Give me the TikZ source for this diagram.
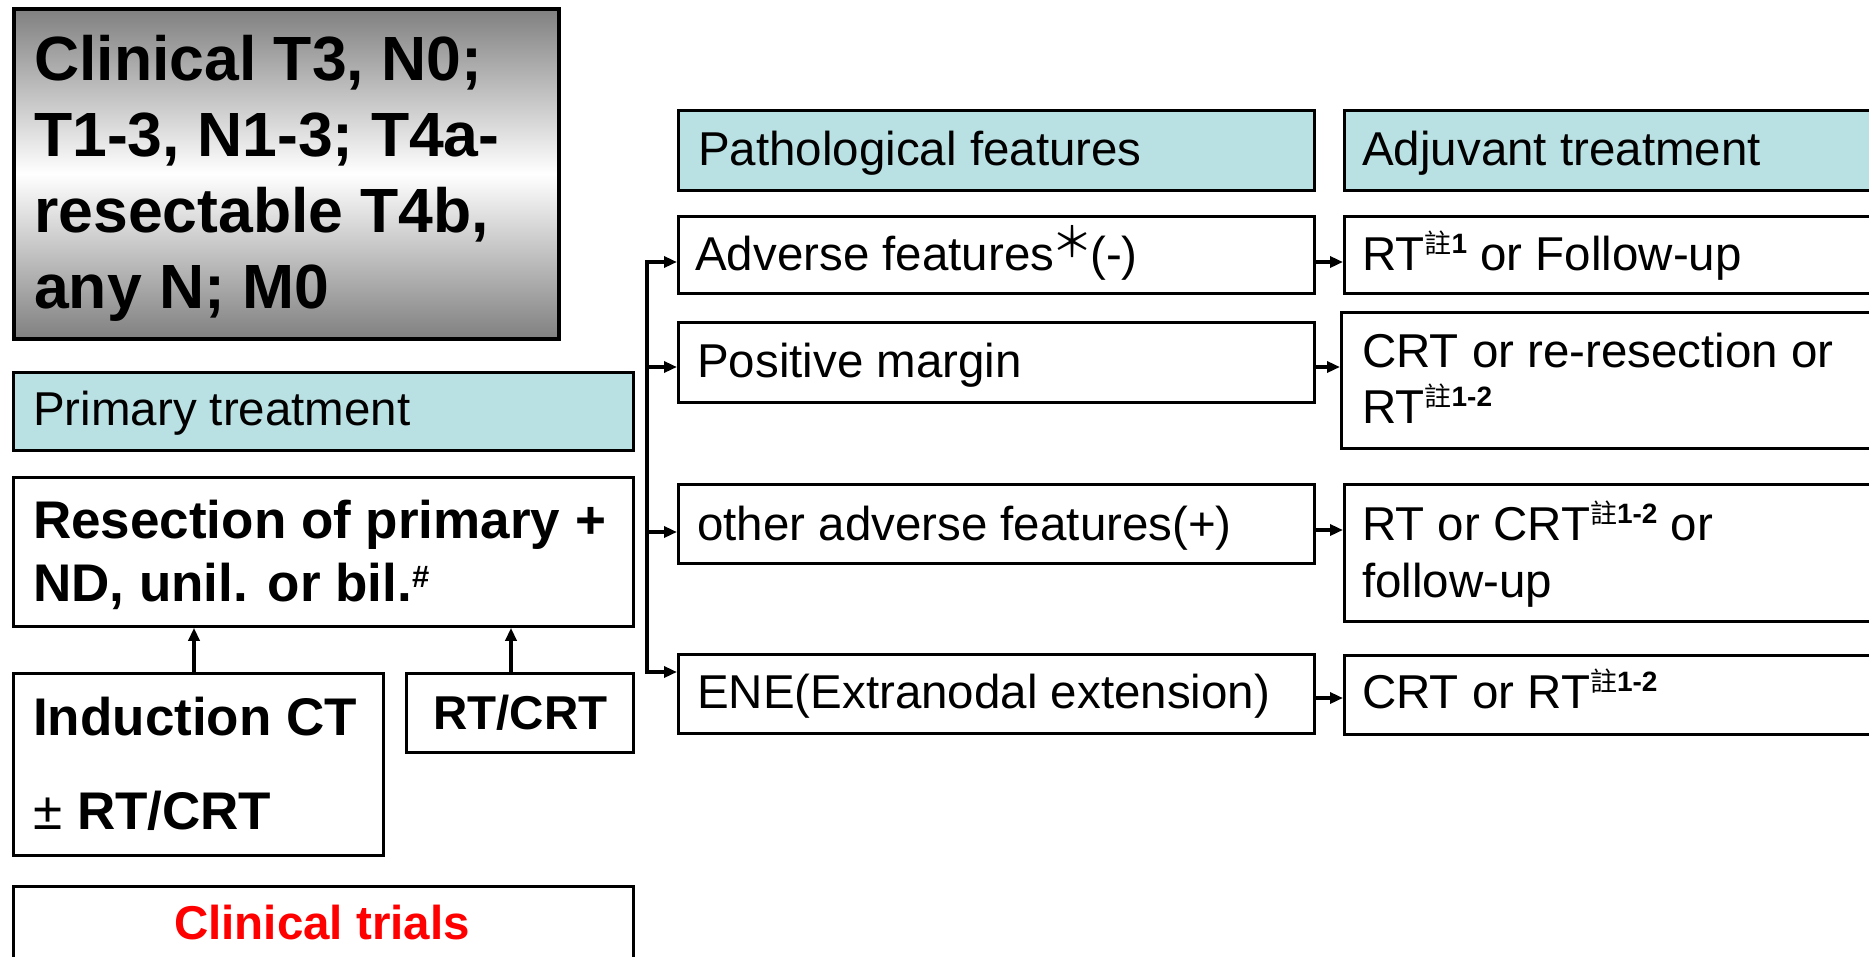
\documentclass[tikz,border=0pt]{standalone}
\usepackage{fontspec}
\setmainfont{Liberation Sans}
\newfontfamily\cjkf{Noto Sans CJK TC}
\usetikzlibrary{arrows.meta}
\definecolor{hdr}{HTML}{B9E0E3}
\definecolor{ttl}{HTML}{808080}
\newcommand{\zhu}[1]{\raisebox{17pt}{{\cjkf\fontsize{27}{27}\selectfont 註}{\fontsize{28}{28}\selectfont\bfseries #1}}}
\tikzset{
  box/.style={draw, line width=2.8pt, anchor=north west, inner sep=0pt},
  hdrbox/.style={box, fill=hdr},
  txt/.style={anchor=base west, inner sep=0pt, font=\fontsize{47.5}{56}\selectfont},
  btxt/.style={anchor=base west, inner sep=0pt, font=\fontsize{53}{64}\selectfont\bfseries},
  ttxt/.style={anchor=base west, inner sep=0pt, font=\fontsize{62.5}{76}\selectfont\bfseries},
  arr/.style={line width=3.5pt, -{Triangle[length=13pt,width=11pt]}},
  ln/.style={line width=3.5pt, line cap=rect},
}
\begin{document}
\begin{tikzpicture}[x=1pt,y=-1pt]
\useasboundingbox (0,0) rectangle (1869,956);
\fill[white] (0,0) rectangle (1869,956);
\clip (0,0) rectangle (1869,956);

% ---- left column boxes
\node[box, line width=3.5pt, top color=ttl, bottom color=ttl, middle color=white,
      minimum width=545pt, minimum height=330pt] (ttl) at (12,7) {};
\node[hdrbox, minimum width=620pt, minimum height=78pt] (pth) at (12,371) {};
\node[box, minimum width=620pt, minimum height=149pt] (res) at (12,476) {};
\node[box, minimum width=370pt, minimum height=182pt] (ind) at (12,672) {};
\node[box, minimum width=227pt, minimum height=79pt] (rtc) at (405,672) {};
\node[box, minimum width=620pt, minimum height=100pt] (ctr) at (12,885) {};

% ---- middle column
\node[hdrbox, minimum width=636pt, minimum height=80pt] (phf) at (677,109) {};
\node[box, minimum width=636pt, minimum height=77pt] (pf1) at (677,215) {};
\node[box, minimum width=636pt, minimum height=80pt] (pf2) at (677,321) {};
\node[box, minimum width=636pt, minimum height=79pt] (pf3) at (677,483) {};
\node[box, minimum width=636pt, minimum height=79pt] (pf4) at (677,653) {};

% ---- right column
\node[hdrbox, minimum width=560pt, minimum height=80pt] (ajh) at (1343,109) {};
\node[box, minimum width=560pt, minimum height=77pt] (aj1) at (1343,215) {};
\node[box, minimum width=563pt, minimum height=136pt] (aj2) at (1340,311) {};
\node[box, minimum width=560pt, minimum height=137pt] (aj3) at (1343,483) {};
\node[box, minimum width=560pt, minimum height=79pt] (aj4) at (1343,654) {};

% ---- texts
\node[ttxt] (tt1) at (34,80) {Clinical T3, N0;};
\node[ttxt] (tt2) at (34,156) {T1-3, N1-3; T4a-};
\node[ttxt] (tt3) at (34,232) {resectable T4b,};
\node[ttxt] (tt4) at (34,308) {any N; M0};

\node[txt] (tpth) at (33,425) {Primary treatment};
\node[btxt] (tres1) at (33,538) {Resection of primary +};
\node[btxt] (tres2) at (33,601) {ND, unil. or bil.\raisebox{14pt}{\fontsize{31}{31}\selectfont\bfseries\#}};
\node[btxt] (tind1) at (33,735) {Induction CT};
\node[btxt] (tind2) at (33,829) {{\mdseries ±} RT/CRT};
\node[btxt, font=\fontsize{47.5}{56}\selectfont\bfseries] (trtc) at (433,729) {RT/CRT};
\node[btxt, anchor=base, text=red, font=\fontsize{47.5}{56}\selectfont\bfseries] (tctr) at (322,939) {Clinical trials};

\node[txt] (tphf) at (698,165) {Pathological features};
\node[txt] (tpf1) at (695,270) {Adverse features\hspace{-3pt}\raisebox{13pt}{\cjkf\fontsize{42}{42}\selectfont ＊}\hspace{-3pt}(-)};
\node[txt] (tpf2) at (697,377) {Positive margin};
\node[txt] (tpf3) at (697,540) {other adverse features(+)};
\node[txt] (tpf4) at (697,708) {ENE(Extranodal extension)};

\node[txt] (tajh) at (1362,165) {Adjuvant treatment};
\node[txt] (taj1) at (1362,270) {RT\zhu{1} or Follow-up};
\node[txt] (taj2a) at (1362,367) {CRT or re-resection or};
\node[txt] (taj2b) at (1362,423) {RT\zhu{1-2}};
\node[txt] (taj3a) at (1362,540) {RT or CRT\zhu{1-2} or};
\node[txt] (taj3b) at (1362,597) {follow-up};
\node[txt] (taj4) at (1362,708) {CRT or RT\zhu{1-2}};

% ---- connectors, left
\coordinate (u1) at (194,0);
\coordinate (u2) at (511,0);
\draw[arr] (u1 |- ind.north) -- (u1 |- res.south);
\draw[arr] (u2 |- rtc.north) -- (u2 |- res.south);

% ---- bracket to pathological features
\coordinate (b1) at (647,262);
\coordinate (b2) at (647,367);
\coordinate (b3) at (647,532);
\coordinate (b4) at (647,672);
\draw[ln] (b1) -- (b4);
\draw[arr] (b1) -- (b1 -| pf1.west);
\draw[arr] (b2) -- (b2 -| pf2.west);
\draw[arr] (b3) -- (b3 -| pf3.west);
\draw[arr] (b4) -- (b4 -| pf4.west);

% ---- pathological -> adjuvant
\coordinate (r1) at (0,262);
\coordinate (r2) at (0,367);
\coordinate (r3) at (0,530);
\coordinate (r4) at (0,698);
\draw[arr] (pf1.east |- r1) -- (aj1.west |- r1);
\draw[arr] (pf2.east |- r2) -- (aj2.west |- r2);
\draw[arr] (pf3.east |- r3) -- (aj3.west |- r3);
\draw[arr] (pf4.east |- r4) -- (aj4.west |- r4);
\end{tikzpicture}
\end{document}
